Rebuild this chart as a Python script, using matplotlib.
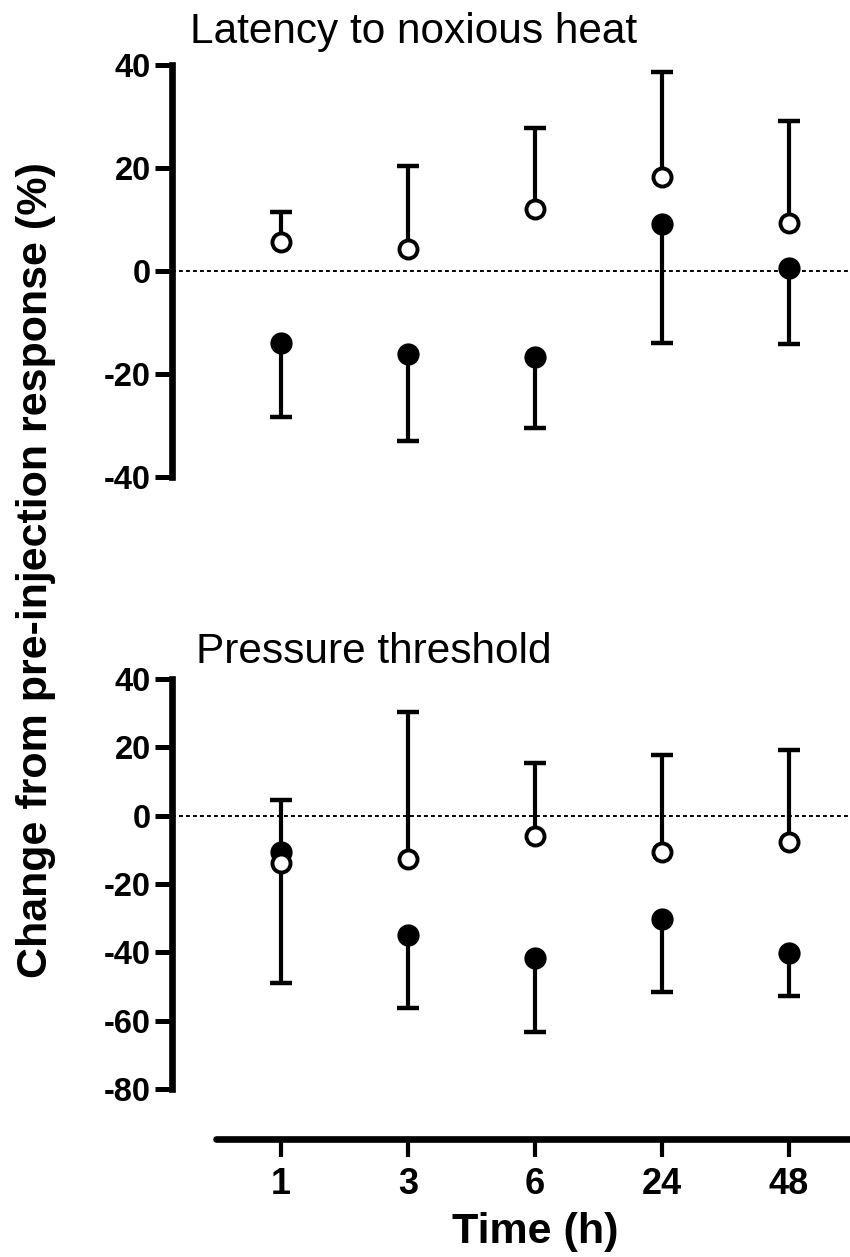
import numpy as np
import matplotlib
matplotlib.use("Agg")
from matplotlib import pyplot as plt

# ---------------------------------------------------------------------------------------------------
# Data
# ---------------------------------------------------------------------------------------------------
time_labels = ["1", "3", "6", "24", "48"]

# Latency to noxious heat
heat_open_mean = [5.6, 4.3, 12.1, 18.3, 9.4]
heat_open_sem = [5.9, 16.0, 15.7, 20.4, 19.7]
heat_filled_mean = [-13.9, -16.2, -16.7, 9.2, 0.6]
heat_filled_sem = [14.5, 16.9, 13.7, 23.1, 14.7]

# Pressure threshold
press_open_mean = [-13.9, -12.7, -5.9, -10.7, -7.6]
press_open_sem = [18.5, 43.1, 21.2, 28.4, 26.8]
press_filled_mean = [-10.7, -34.9, -41.7, -30.2, -40.1]
press_filled_sem = [38.3, 21.4, 21.5, 21.3, 12.8]

heat_yticks = [-40, -20, 0, 20, 40]
press_yticks = [-80, -60, -40, -20, 0, 20, 40]

# ---------------------------------------------------------------------------------------------------
# Helper Functions
# ---------------------------------------------------------------------------------------------------
W, H = 850, 1257
BOLD = dict(family="Liberation Sans", weight="bold")


def px_rect(left, top, right, bottom):
    return [left / W, 1 - bottom / H, (right - left) / W, (bottom - top) / H]


def draw_series(ax, x, mean, sem, up, filled):
    mean = np.asarray(mean)
    sem = np.asarray(sem)
    end = mean + sem if up else mean - sem
    ax.vlines(x, mean, end, color="black", lw=3.0, zorder=2, clip_on=False)
    ax.plot(x, end, ls="none", marker="_", ms=16, mew=3.2, color="black", zorder=2, clip_on=False)
    if filled:
        ax.plot(x, mean, ls="none", marker="o", ms=14.5, mfc="black", mec="black", mew=1.5,
                zorder=3, clip_on=False)
    else:
        ax.plot(x, mean, ls="none", marker="o", ms=13, mfc="white", mec="black", mew=2.8,
                zorder=4, clip_on=False)


def style_axes(ax, yticks):
    ax.set_xlim(-0.858, 4.48)
    ax.spines["top"].set_visible(False)
    ax.spines["right"].set_visible(False)
    ax.spines["left"].set_linewidth(4.8)
    ax.spines["left"].set_bounds(min(yticks), max(yticks))
    ax.set_yticks(yticks)
    ax.set_yticklabels([str(t) for t in yticks], fontsize=23.5, **BOLD)
    ax.tick_params(axis="y", direction="out", length=12, width=3.6, pad=3)
    ax.axhline(0, color="black", lw=1.4, ls=(0, (2, 1.6)), zorder=1)


# ---------------------------------------------------------------------------------------------------
# Figure
# ---------------------------------------------------------------------------------------------------
fig = plt.figure(figsize=(W / 100, H / 100), dpi=100)
x = np.arange(len(time_labels))

# Top panel: latency to noxious heat
ax1 = fig.add_axes(px_rect(172, 65, 850, 477))
ax1.set_ylim(-40, 40)
style_axes(ax1, heat_yticks)
ax1.spines["bottom"].set_visible(False)
ax1.set_xticks([])
draw_series(ax1, x, heat_filled_mean, heat_filled_sem, up=False, filled=True)
draw_series(ax1, x, heat_open_mean, heat_open_sem, up=True, filled=False)

# Bottom panel: pressure threshold
ax2 = fig.add_axes(px_rect(172, 679, 850, 1139))
ax2.set_ylim(-94.6, 40)
style_axes(ax2, press_yticks)
ax2.spines["bottom"].set_linewidth(4.8)
ax2.spines["bottom"].set_bounds(-0.512, 4.48)
ax2.spines["bottom"].set_capstyle("round")
ax2.set_xticks(x)
ax2.set_xticklabels(time_labels, fontsize=26, **BOLD)
ax2.tick_params(axis="x", direction="out", length=13, width=3.0, pad=7)
draw_series(ax2, x, press_filled_mean, press_filled_sem, up=False, filled=True)
draw_series(ax2, x, press_open_mean, press_open_sem, up=True, filled=False)

# Titles and labels
fig.text(190 / W, 1 - 43 / H, "Latency to noxious heat", fontsize=30.5, family="Liberation Sans",
         ha="left", va="baseline")
fig.text(196 / W, 1 - 663 / H, "Pressure threshold", fontsize=30.5, family="Liberation Sans",
         ha="left", va="baseline")
fig.text(535 / W, 1 - 1243 / H, "Time (h)", fontsize=31, ha="center", va="baseline", **BOLD)
fig.text(36 / W, 1 - 570 / H, "Change from pre-injection response (%)", fontsize=31,
         rotation=90, ha="center", va="center", **BOLD)

fig.savefig("out.png", dpi=100)
